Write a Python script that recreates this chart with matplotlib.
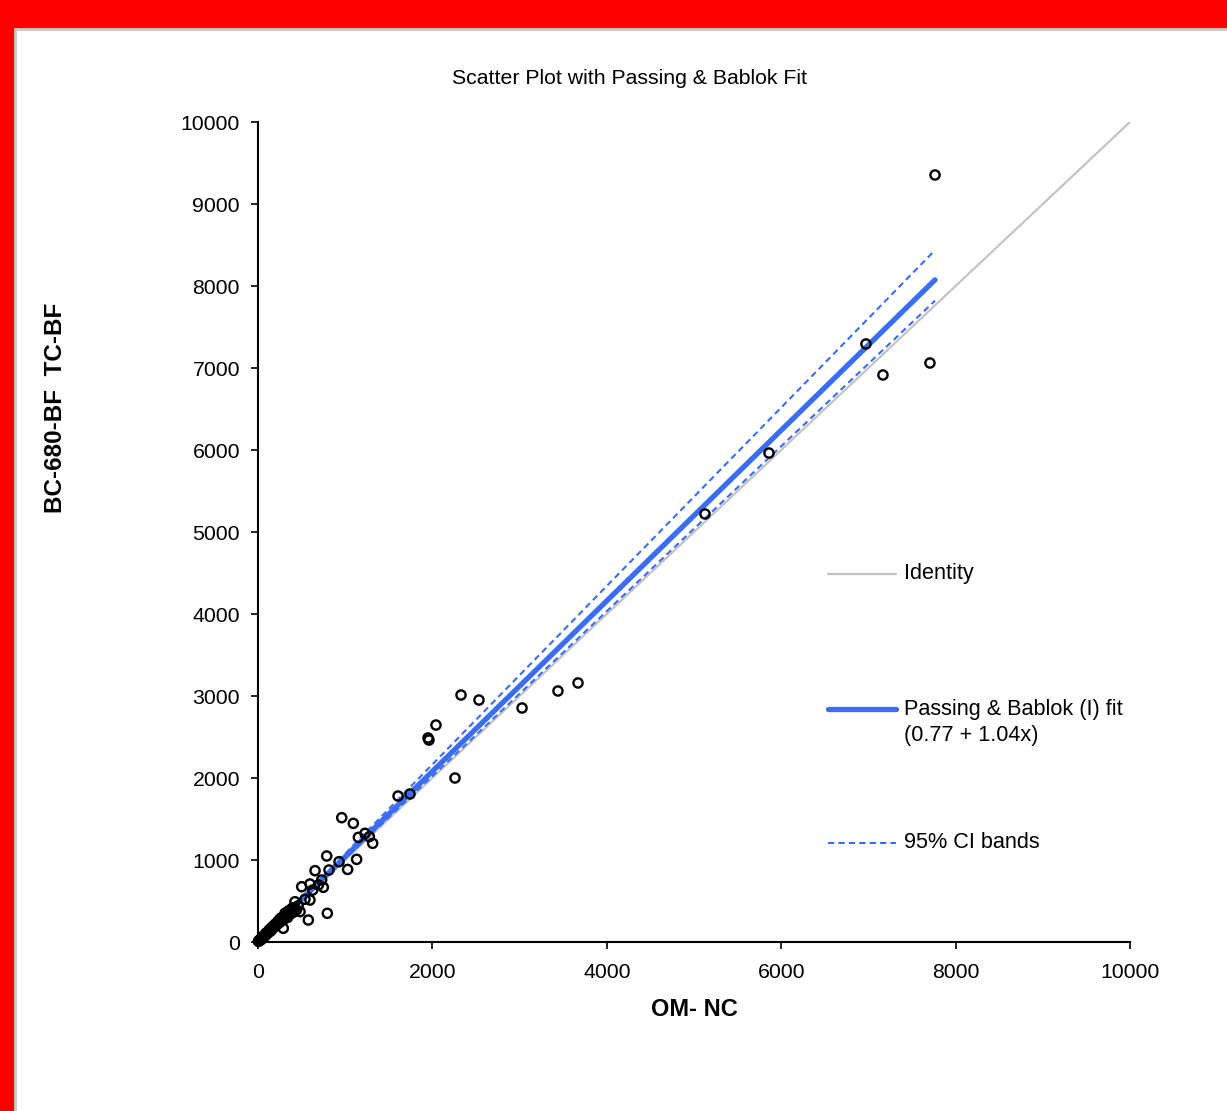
import matplotlib
matplotlib.use("Agg")
import matplotlib.pyplot as plt
from matplotlib.patches import Rectangle
from matplotlib.lines import Line2D
import numpy as np

plt.rcParams['font.family'] = ['Liberation Sans', 'DejaVu Sans']

# ---- data ----
om_nc = [5, 10, 15, 20, 25, 30, 40, 45, 50, 60, 65, 70, 80, 90, 95, 100, 110, 120,
         130, 140, 150, 160, 170, 180, 190, 200, 210, 220, 235, 250, 260, 275, 290,
         300, 310, 320, 340, 350, 370, 390, 400, 420, 440, 460,
         290, 482, 424, 539, 596, 577, 795, 501, 627, 692, 749, 654, 814, 730, 596,
         929, 1028, 1131, 788, 960, 1093, 1151, 1227, 1277, 1315,
         1606, 1743, 1950, 1961, 2041, 2259, 2328, 2534, 3028, 3440, 3670,
         5126, 5860, 6972, 7167, 7706, 7764]
bc680 = [8, 12, 20, 18, 30, 25, 45, 38, 60, 55, 75, 62, 90, 85, 110, 100, 120, 115,
         150, 135, 140, 180, 165, 190, 210, 205, 230, 215, 260, 240, 290, 270, 310,
         280, 350, 330, 300, 380, 340, 410, 360, 420, 390, 440,
         167, 370, 491, 521, 512, 268, 350, 674, 634, 695, 667, 870, 878, 756, 707,
         979, 885, 1008, 1049, 1516, 1447, 1276, 1325, 1284, 1203,
         1780, 1805, 2488, 2463, 2646, 2000, 3012, 2951, 2854, 3061, 3159,
         5220, 5963, 7293, 6915, 7061, 9354]

fit_intercept, fit_slope = 0.77, 1.04
ci_upper = (-10.0, 1.088)
ci_lower = (10.0, 1.006)

x_ticks = [0, 2000, 4000, 6000, 8000, 10000]
y_ticks = [0, 1000, 2000, 3000, 4000, 5000, 6000, 7000, 8000, 9000, 10000]

blue = '#3a6df5'
grey = '#c4c4c4'

W, H = 1227, 1111
fig = plt.figure(figsize=(W / 100, H / 100), dpi=100)
fig.patch.set_facecolor('#ff0000')
fig.patches.append(Rectangle((15 / W, -0.01), 1.02, (H - 29) / H + 0.01,
                             transform=fig.transFigure, facecolor='white',
                             edgecolor='#c8c8c8', linewidth=2, zorder=-10))

ax = fig.add_axes([258 / W, 1 - 942 / H, (1130 - 258) / W, (942 - 122) / H])
ax.set_facecolor('none')
ax.set_zorder(5)

ax.plot([0, 10000], [0, 10000], color=grey, lw=1.6, zorder=1)
xmax = max(om_nc)
xs = np.array([0, xmax])
ax.plot(xs, fit_intercept + fit_slope * xs, color=blue, lw=3.8, solid_capstyle='round', zorder=3)
ax.plot(xs, ci_upper[0] + ci_upper[1] * xs, color=blue, lw=1.5, ls=(0, (3, 2)), zorder=2)
ax.plot(xs, ci_lower[0] + ci_lower[1] * xs, color=blue, lw=1.5, ls=(0, (3, 2)), zorder=2)

ax.scatter(om_nc, bc680, s=44, facecolors='none', edgecolors='black', linewidths=1.7,
           zorder=4, clip_on=False)

ax.set_xlim(0, 10000)
ax.set_ylim(0, 10000)
ax.set_xticks(x_ticks)
ax.set_yticks(y_ticks)
ax.tick_params(direction='out', length=5, width=1.2, labelsize=15.3)
ax.tick_params(axis='x', pad=10)
ax.tick_params(axis='y', pad=8)
for s in ['top', 'right']:
    ax.spines[s].set_visible(False)
for s in ['left', 'bottom']:
    ax.spines[s].set_linewidth(1.5)

ax.set_xlabel('OM- NC', fontsize=17, fontweight='bold', labelpad=12)
ax.set_ylabel('BC-680-BF  TC-BF', fontsize=17.5, fontweight='bold')
ax.yaxis.set_label_coords(-0.219, 0.651)

fig.text(630 / W, 1 - 78 / H, 'Scatter Plot with Passing & Bablok Fit',
         ha='center', va='center', fontsize=15.3)

# manual legend
def px(x, y):
    return x / W, 1 - y / H

leg = [(574, grey, 1.6, '-', 'Identity', None),
       (709, blue, 3.8, '-', 'Passing & Bablok (I) fit', '(0.77 + 1.04x)'),
       (843, blue, 1.5, (0, (3, 2)), '95% CI bands', None)]
for y, c, lw, ls, lab, lab2 in leg:
    x0, yy = px(828, y)
    x1, _ = px(896, y)
    fig.add_artist(Line2D([x0, x1], [yy, yy], color=c, lw=lw, ls=ls,
                          transform=fig.transFigure, solid_capstyle='round'))
    fig.text(904 / W, yy, lab, ha='left', va='center', fontsize=15.6)
    if lab2:
        fig.text(904 / W, 1 - (y + 27) / H, lab2, ha='left', va='center', fontsize=15.6)

fig.savefig('out.png', dpi=100, facecolor=fig.get_facecolor())
